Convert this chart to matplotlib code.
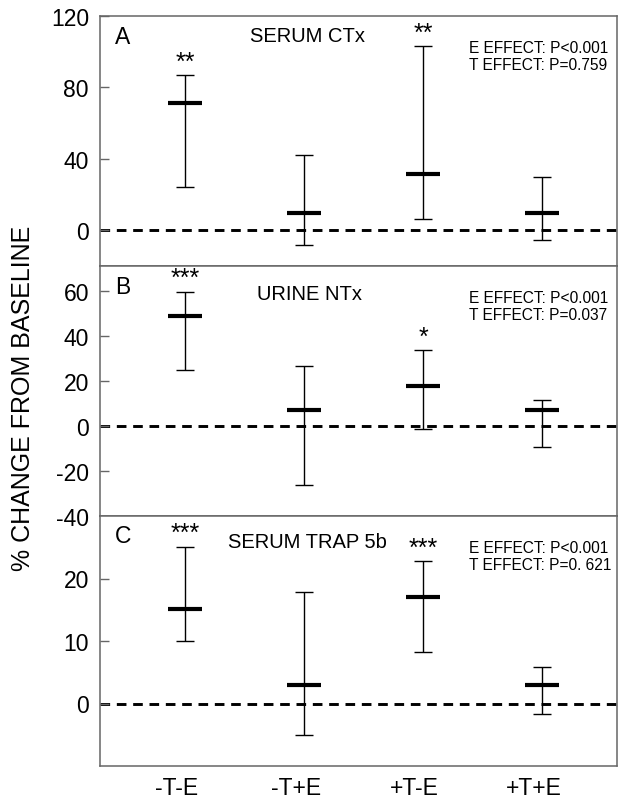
import matplotlib.pyplot as plt

plt.rcParams['font.family'] = ['Liberation Sans', 'DejaVu Sans']
plt.rcParams['axes.unicode_minus'] = False

groups = ["-T-E", "-T+E", "+T-E", "+T+E"]

# serum CTx, % change from baseline
ctx_mean = [71.5, 9.5, 31.5, 9.5]
ctx_low = [24.4, -8.4, 6.5, -5.6]
ctx_high = [86.9, 42.2, 103.1, 29.8]
ctx_stars = ["**", "", "**", ""]

# urine NTx
ntx_mean = [48.8, 7.2, 17.9, 6.9]
ntx_low = [24.7, -26.3, -1.3, -9.3]
ntx_high = [59.6, 26.8, 33.5, 11.6]
ntx_stars = ["***", "", "*", ""]

# serum TRAP 5b
trap_mean = [15.2, 3.0, 17.0, 3.0]
trap_low = [10.0, -5.0, 8.2, -1.7]
trap_high = [25.1, 17.9, 22.8, 5.9]
trap_stars = ["***", "", "***", ""]

panels = [
    ("A", "SERUM CTx", "E EFFECT: P<0.001\nT EFFECT: P=0.759",
     ctx_mean, ctx_low, ctx_high, ctx_stars, (-20, 120), [0, 40, 80, 120]),
    ("B", "URINE NTx", "E EFFECT: P<0.001\nT EFFECT: P=0.037",
     ntx_mean, ntx_low, ntx_high, ntx_stars, (-40, 71), [-40, -20, 0, 20, 40, 60]),
    ("C", "SERUM TRAP 5b", "E EFFECT: P<0.001\nT EFFECT: P=0. 621",
     trap_mean, trap_low, trap_high, trap_stars, (-10, 30), [0, 10, 20]),
]
title_pos = [(0.290, 0.92), (0.303, 0.888), (0.247, 0.896)]

fig = plt.figure(figsize=(6.19, 8.04), dpi=100)
left, width = 100 / 619, 517 / 619
h = 250 / 804
bottom0 = 1 - 767 / 804
frame = "#666666"

x = list(range(len(groups)))
for i, (tag, name, effects, mean, low, high, stars, ylim, yticks) in enumerate(panels):
    ax = fig.add_axes([left, bottom0 + (2 - i) * h, width, h])
    ax.axhline(0, color="black", lw=2.1, ls=(0, (3.3, 2.3)), zorder=1)
    yerr = [[m - l for m, l in zip(mean, low)], [hi - m for hi, m in zip(high, mean)]]
    ax.errorbar(x, mean, yerr=yerr, fmt="none", ecolor="black", elinewidth=1,
                capsize=6.5, capthick=1, zorder=2)
    ax.plot(x, mean, ls="none", marker="_", ms=24, mew=3, color="black", zorder=3)
    for xi, hi, s in zip(x, high, stars):
        if s:
            ax.annotate(s, (xi, hi), xytext=(0, 1), textcoords="offset points",
                        ha="center", va="bottom", fontsize=18)
    ax.set_xlim(-0.714, 3.63)
    ax.set_ylim(*ylim)
    ax.set_yticks(yticks)
    ax.tick_params(axis="y", direction="in", length=6.5, width=1, color=frame,
                   labelsize=16.5, pad=8)
    for sp in ax.spines.values():
        sp.set_color(frame)
        sp.set_linewidth(1.1)
    ax.text(0.029, 0.92, tag, transform=ax.transAxes, fontsize=16.5, va="center")
    tx, ty = title_pos[i]
    ax.text(tx, ty, name, transform=ax.transAxes, fontsize=14.5, va="center")
    ax.text(0.714, 0.904, effects, transform=ax.transAxes, fontsize=11.2,
            va="top", linespacing=1.2)
    if i < 2:
        ax.set_xticks([])
    else:
        ax.set_xticks([xi - 0.07 for xi in x])
        ax.set_xticklabels(groups)
        ax.tick_params(axis="x", length=0, labelsize=16.5, pad=7)

fig.text(0.037, 1 - 398 / 804, "% CHANGE FROM BASELINE", rotation=90,
         ha="center", va="center", fontsize=18)

fig.savefig("out.png", dpi=100)
